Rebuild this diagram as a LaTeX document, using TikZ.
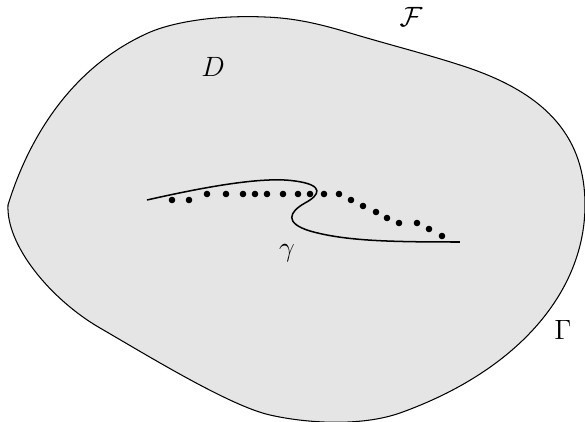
\documentclass[tikz,border=0pt]{standalone}
\usepackage{amsmath}
\usetikzlibrary{positioning}

\definecolor{regiongray}{gray}{0.9}

\begin{document}
\begin{tikzpicture}[x=0.43pt,y=-0.43pt,
  region/.style={fill=regiongray,draw=black,line width=0.45pt},
  crack/.style={line width=0.65pt},
  dotmark/.style={fill=black},
  lbl/.style={font=\large}]

\useasboundingbox (0,0) rectangle (585,422);

% Domain
\draw[region] (8,205) .. controls (28,140) and (70,68) .. (148,33)
  .. controls (175,21) and (220,15) .. (265,17)
  .. controls (295,18) and (320,24) .. (350,33)
  .. controls (390,45) and (430,55) .. (466,67)
  .. controls (550,95) and (585,140) .. (585,205)
  .. controls (585,290) and (520,370) .. (400,413)
  .. controls (360,427) and (305,423) .. (270,415)
  .. controls (230,406) and (150,357) .. (100,328)
  .. controls (50,299) and (6,245) .. cycle;

% Curve
\draw[crack] (147,200) .. controls (200,188) and (262,176) .. (295,181)
  .. controls (325,185) and (320,195) .. (305,203)
  .. controls (289,212) and (284,223) .. (310,231)
  .. controls (345,241) and (390,242) .. (460,242);

% Dots
\foreach \p in {(172,200),(189,200),(207,194),(226,194),(243,194),
  (255,194),(267,194),(283,194),(298,194),(310,194),(324,194),
  (339,194),(351,200),(363,206),(376,212),(387,218),(399,223),
  (417,223),(429,229),(442,236)}
  \fill[dotmark] \p circle (3.3);

% Labels
\node[lbl] (F) at (411,17) {$\mathcal{F}$};
\node[lbl] (D) at (213,67) {$D$};
\node[lbl] (gam) at (287,253) {$\gamma$};
\node[lbl] (Gam) at (563,330) {$\Gamma$};

\end{tikzpicture}
\end{document}
